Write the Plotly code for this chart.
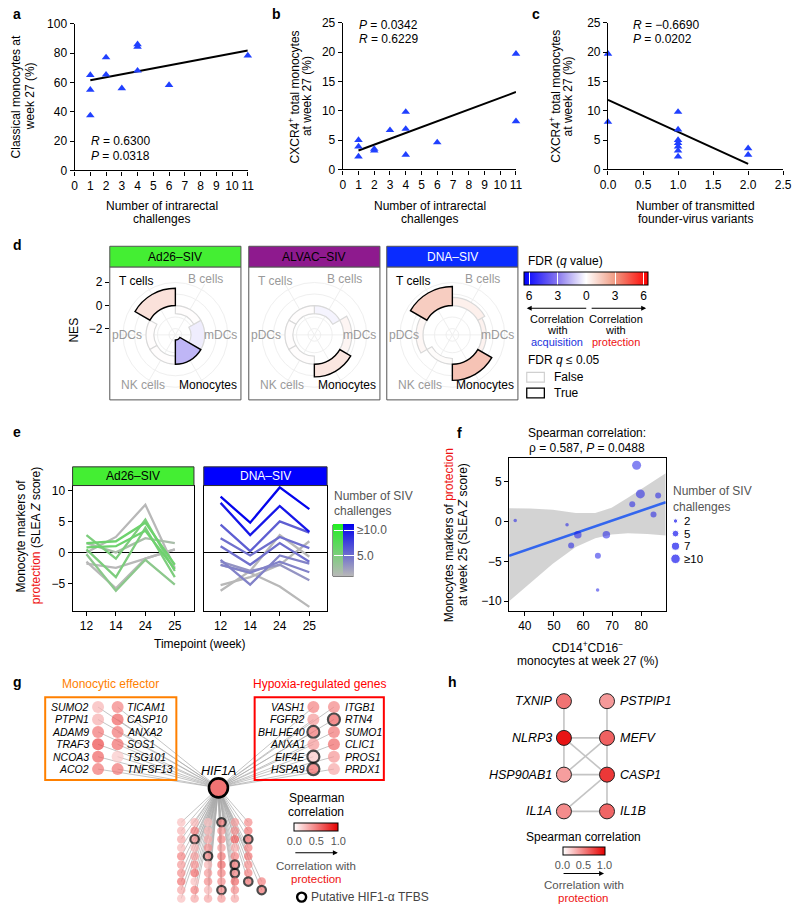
import plotly.graph_objects as go

W, H = 800, 912
FONT = "Liberation Sans, Arial, sans-serif"

# ---------------- data ----------------
a_challenges = [1, 1, 1, 2, 2, 3, 4, 4, 4, 6, 11]
a_classical = [65, 55, 37.5, 77, 65.3, 56, 86, 84.3, 68, 58.2, 78.3]
a_fit_x = [1, 11]
a_fit_y = [61.5, 81.7]

b_challenges = [1, 1, 1, 2, 2, 3, 4, 4, 4, 6, 11, 11]
b_cxcr4 = [5.0, 3.9, 2.2, 3.5, 3.2, 6.7, 9.8, 6.9, 2.5, 4.6, 19.7, 8.2]
b_fit_x = [1, 11]
b_fit_y = [3.24, 13.2]

c_variants = [0, 0, 1, 1, 1, 1, 1, 1, 1, 2, 2]
c_cxcr4 = [19.7, 8.1, 9.8, 6.8, 5.0, 4.5, 3.9, 3.2, 2.2, 3.6, 2.5]
c_fit_x = [0, 2]
c_fit_y = [11.85, 0.95]

d_vaccines = ["Ad26–SIV", "ALVAC–SIV", "DNA–SIV"]
d_cells = ["mDCs", "B cells", "T cells", "pDCs", "NK cells", "Monocytes"]
d_nes_ad26 = [-1.2, -0.7, 1.5, -0.7, -0.7, -2.1]
d_nes_alvac = [0.7, -0.7, -0.7, -0.7, -0.7, 1.1]
d_nes_dna = [0.4, 0.7, 1.65, 0.6, -0.5, 1.4]
d_fdr_ad26 = [-0.4, 0.05, 0.9, 0.05, 0.05, -1.6]
d_fdr_alvac = [0.3, -0.25, 0.05, 0.05, 0.05, 0.75]
d_fdr_dna = [0.4, 0.45, 1.5, 0.25, 0.1, 1.8]
d_sig_ad26 = [False, False, True, False, False, True]
d_sig_alvac = [False, False, False, False, False, True]
d_sig_dna = [False, False, True, False, False, True]

e_weeks = ["12", "14", "24", "25"]
e_ad26_lines = [[2.8, -1.0, 5.3, -3.0], [1.5, 1.8, 4.8, -2.0], [0.5, -4.0, 4.0, -4.0],
                [-0.3, -6.2, -1.2, -5.2], [0.8, 1.0, 3.5, -2.7], [0.0, 2.5, 7.7, -2.5],
                [-1.8, -2.5, -1.0, 0.5], [1.5, 0.0, 2.3, 1.5], [-1.5, -5.8, -1.0, 0.5]]
e_ad26_challenges = [5, 6, 5, 4, 6, 1, 1, 2, 1]
e_dna_lines = [[9.0, 4.8, 10.5, 7.0], [8.0, 2.8, 7.5, 3.3], [4.5, 0.2, 5.0, 3.2],
               [2.3, -0.5, 2.5, 0.7], [1.0, -2.0, 1.5, -1.5], [-1.2, -5.2, -0.5, -1.8],
               [-2.0, -3.3, -1.5, -3.2], [-1.5, -3.0, -2.0, -4.5], [-5.3, -4.0, -2.0, 1.8],
               [-6.2, -3.0, 2.8, -0.7], [-2.0, -3.3, -5.5, -8.8]]
e_dna_challenges = [11, 10, 6, 5, 5, 4, 4, 3, 1, 1, 1]

f_cd14 = [36.7, 54.5, 55.9, 58.2, 65.1, 65.0, 68.0, 76.9, 78.4, 79.7, 84.2, 85.8]
f_slea = [0.15, -0.4, -3.0, -1.65, -4.3, -8.6, -1.65, 2.2, 7.1, 3.5, 0.9, 3.3]
f_challenges = [2, 2, 5, 7, 5, 2, 7, 5, 11, 10, 5, 5]
f_fit_x = [34.6, 88.4]
f_fit_y = [-4.3, 2.45]
f_band_x = [34.6, 41.8, 49.6, 57.5, 64.2, 69.8, 75.4, 82.1, 88.4]
f_band_hi = [1.7, 1.65, 1.5, 1.1, 1.1, 1.75, 3.0, 4.65, 6.1]
f_band_lo = [-10.0, -7.7, -5.3, -3.2, -2.1, -1.6, -1.45, -1.55, -1.75]
f_legend_levels = [2, 5, 7, 10]
f_legend_text = ["2", "5", "7", "≥10"]

g_eff_col1 = ["SUMO2", "PTPN1", "ADAM9", "TRAF3", "NCOA3", "ACO2"]
g_eff_col1_r = [0.30, 0.32, 0.55, 0.72, 0.62, 0.55]
g_eff_col2 = ["TICAM1", "CASP10", "ANXA2", "SOS1", "TSG101", "TNFSF13"]
g_eff_col2_r = [0.50, 0.62, 0.55, 0.58, 0.22, 0.55]
g_hyp_col1 = ["VASH1", "FGFR2", "BHLHE40", "ANXA1", "EIF4E", "HSPA9"]
g_hyp_col1_r = [0.50, 0.40, 0.55, 0.40, 0.22, 0.60]
g_hyp_col1_tfbs = [0, 0, 1, 0, 1, 1]
g_hyp_col2 = ["ITGB1", "RTN4", "SUMO1", "CLIC1", "PROS1", "PRDX1"]
g_hyp_col2_r = [0.48, 0.62, 0.55, 0.60, 0.42, 0.35]
g_hyp_col2_tfbs = [0, 1, 0, 0, 0, 0]
g_hub_r = 0.55
g_other_r = [[0.25, 0.30, 0.35, 0.28, 0.50, 0.40, 0.45, 0.55, 0.35, 0.25],
             [0.30, 0.55, 0.45, 0.30, 0.40, 0.45, 0.60, 0.25, 0.50, 0.35],
             [0.25, 0.30, 0.35, 0.45, 0.50, 0.30, 0.40, 0.45, 0.30, 0.35],
             [0.55, 0.45, 0.50, 0.40, 0.55, 0.60, 0.50, 0.45, 0.50, 0.40],
             [0.40, 0.45, 0.65, 0.35, 0.50, 0.55, 0.50, 0.60, 0.45, 0.35],
             [0.45, 0.55, 0.60, 0.50, 0.55, 0.45, 0.50, 0.55],
             [0.50, 0.55]]
g_other_start = [0, 0, 0, 0, 0, 0, 7]
g_other_tfbs = [[], [2], [4], [0, 8], [5, 6], [2, 7], [1]]

h_left = ["TXNIP", "NLRP3", "HSP90AB1", "IL1A"]
h_left_r = [0.55, 0.92, 0.38, 0.45]
h_right = ["PSTPIP1", "MEFV", "CASP1", "IL1B"]
h_right_r = [0.40, 0.62, 0.78, 0.60]
h_edges = [("TXNIP", "NLRP3"), ("NLRP3", "HSP90AB1"), ("NLRP3", "MEFV"), ("NLRP3", "CASP1"),
           ("HSP90AB1", "MEFV"), ("HSP90AB1", "CASP1"), ("IL1A", "CASP1"), ("IL1A", "IL1B"),
           ("PSTPIP1", "MEFV"), ("MEFV", "CASP1"), ("CASP1", "IL1B")]

# ---------------- helpers ----------------
def fx(p):
    return p / W

def fy(p):
    return 1 - p / H

ANN, SHP = [], []
FS = 12

def txt(x, y, text, size=FS, color="black", xa="center", ya="middle", angle=0):
    ANN.append(dict(x=fx(x), y=fy(y), xref="paper", yref="paper", text=text, showarrow=False,
                    textangle=angle, xanchor=xa, yanchor=ya,
                    font=dict(family=FONT, size=size, color=color)))

def rect(x0, y0, x1, y1, line="black", width=1.0, fill="rgba(0,0,0,0)"):
    SHP.append(dict(type="rect", xref="paper", yref="paper", x0=fx(x0), x1=fx(x1),
                    y0=fy(y1), y1=fy(y0), line=dict(color=line, width=width),
                    fillcolor=fill, layer="above"))

def arrow(xh, y, xt):
    ANN.append(dict(x=fx(xh), y=fy(y), xref="paper", yref="paper", ax=xt - xh, ay=0, text="",
                    showarrow=True, arrowhead=2, arrowsize=0.9, arrowwidth=1.1, arrowcolor="black"))

def hex2rgb(h):
    h = h.lstrip("#")
    return [int(h[i:i + 2], 16) for i in (0, 2, 4)]

def blend(c0, c1, t):
    a, b = hex2rgb(c0), hex2rgb(c1)
    t = min(max(t, 0), 1)
    return "rgb(%d,%d,%d)" % tuple(round(a[i] + (b[i] - a[i]) * t) for i in range(3))

def axis(domain, rng, **kw):
    d = dict(domain=domain, range=rng, showline=True, linecolor="black", linewidth=1.1,
             ticks="outside", ticklen=4, tickwidth=1.1, tickcolor="black", showgrid=False,
             zeroline=False, fixedrange=True,
             tickfont=dict(family=FONT, size=FS, color="black"))
    d.update(kw)
    return d

fig = go.Figure()

# ---------------- a, b, c ----------------
for xa, ya, xs, ys, lx, ly in [("x", "y", a_challenges, a_classical, a_fit_x, a_fit_y),
                               ("x2", "y2", b_challenges, b_cxcr4, b_fit_x, b_fit_y),
                               ("x3", "y3", c_variants, c_cxcr4, c_fit_x, c_fit_y)]:
    fig.add_trace(go.Scatter(x=lx, y=ly, mode="lines", line=dict(color="black", width=2),
                             xaxis=xa, yaxis=ya, hoverinfo="skip"))
    fig.add_trace(go.Scatter(x=xs, y=ys, mode="markers", cliponaxis=False,
                             marker=dict(symbol="triangle-up", size=7.5, color="#2040ff"),
                             xaxis=xa, yaxis=ya))

txt(3, 7, "<b>a</b>", size=14, xa="left")
txt(268, 7, "<b>b</b>", size=14, xa="left")
txt(533, 7, "<b>c</b>", size=14, xa="left")
txt(8, 91, "Classical monocytes at", angle=-90)
txt(22, 91, "week 27 (%)", angle=-90)
txt(157, 202, "Number of intrarectal")
txt(157, 215, "challenges")
txt(83, 136, "<i>R</i> = 0.6300", xa="left")
txt(83, 151, "<i>P</i> = 0.0318", xa="left")
txt(292, 91, "CXCR4<sup>+</sup> total monocytes", angle=-90)
txt(305, 91, "at week 27 (%)", angle=-90)
txt(431, 202, "Number of intrarectal")
txt(431, 215, "challenges")
txt(357, 18, "<i>P</i> = 0.0342", xa="left")
txt(357, 33, "<i>R</i> = 0.6229", xa="left")
txt(558, 91, "CXCR4<sup>+</sup> total monocytes", angle=-90)
txt(572, 91, "at week 27 (%)", angle=-90)
txt(702, 202, "Number of transmitted")
txt(702, 215, "founder-virus variants")
txt(637, 18, "<i>R</i> = −0.6690", xa="left")
txt(637, 33, "<i>P</i> = 0.0202", xa="left")

# ---------------- d ----------------
D_SCALE = [[0, "#0000ff"], [0.27, "#8877ee"], [0.5, "#ffffff"], [0.73, "#f09c84"], [1, "#ff0000"]]
d_sets = [(d_nes_ad26, d_fdr_ad26, d_sig_ad26), (d_nes_alvac, d_fdr_alvac, d_sig_alvac),
          (d_nes_dna, d_fdr_dna, d_sig_dna)]
d_boxes = [(104, 238), (246, 380), (387, 521)]
d_head = ["#44ee33", "#8e1a8e", "#0a2cff"]
d_head_txt = ["black", "black", "white"]
label_off = {"mDCs": (46, 0), "B cells": (31, -57), "T cells": (-40, -55), "pDCs": (-49, 0),
             "NK cells": (-33, 51), "Monocytes": (33, 51)}
CY = 333
polars = {}
for k, (nes, fdr, sig) in enumerate(d_sets):
    order = sorted(range(6), key=lambda i: sig[i])
    fig.add_trace(go.Barpolar(
        r=[nes[i] for i in order], base=[0] * 6, theta=[60 * i for i in order], width=[60] * 6,
        marker=dict(color=[fdr[i] for i in order], coloraxis="coloraxis",
                    line=dict(color=["black" if sig[i] else "#d9d9d9" for i in order],
                              width=[1.4 if sig[i] else 1.2 for i in order])),
        subplot="polar" if k == 0 else f"polar{k + 1}", hoverinfo="skip"))
    x0, x1 = d_boxes[k]
    cx = (x0 + x1) / 2
    polars["polar" if k == 0 else f"polar{k + 1}"] = dict(
        domain=dict(x=[fx(cx - 60), fx(cx + 60)], y=[fy(CY + 60), fy(CY - 60)]),
        bgcolor="rgba(0,0,0,0)",
        radialaxis=dict(range=[-2.55, 2.55], showticklabels=False, ticks="", showline=False,
                        gridcolor="#efefef", tickvals=[-2, -1, 0, 1, 2]),
        angularaxis=dict(tickvals=[0, 60, 120, 180, 240, 300], showticklabels=False, ticks="",
                         showline=False, gridcolor="#efefef", direction="counterclockwise",
                         rotation=0))
    rect(x0, 264, x1, 399, line="#555555")
    rect(x0, 243, x1, 264, line="#555555", fill=d_head[k])
    txt(cx, 254, d_vaccines[k], color=d_head_txt[k])
    for i, cell in enumerate(d_cells):
        ox, oy = label_off[cell]
        txt(cx + ox, CY + oy, cell, color="black" if sig[i] else "#9a9a9a")

txt(3, 242, "<b>d</b>", size=14, xa="left")
fig.add_trace(go.Scatter(x=[0], y=[0], mode="markers", marker=dict(opacity=0),
                         xaxis="x4", yaxis="y4", hoverinfo="skip"))
txt(67, 328, "NES", angle=-90)
txt(529, 258, "FDR (<i>q</i> value)", xa="left")
arrow(530, 306, 591)
arrow(652, 306, 596)
for j, (word, col) in enumerate([("Correlation", "black"), ("with", "black"),
                                 ("acquisition", "#2233dd")]):
    txt(561, 317 + 11.5 * j, word, size=11, color=col)
for j, (word, col) in enumerate([("Correlation", "black"), ("with", "black"),
                                 ("protection", "#ee1111")]):
    txt(621, 317 + 11.5 * j, word, size=11, color=col)
txt(529, 358, "FDR <i>q</i> ≤ 0.05", xa="left")
rect(530, 371, 548, 381, line="#d0d0d0", width=1.2)
txt(556, 376, "False", xa="left")
rect(530, 387, 548, 397, line="black", width=1.3)
txt(556, 392, "True", xa="left")

# ---------------- e ----------------
GREEN = ["#b8b8b8", "#22ee22"]
BLUE = ["#b8b8b8", "#0000ee"]
for xa, ya, lines, counts, cs in [("x5", "y5", e_ad26_lines, e_ad26_challenges, GREEN),
                                  ("x6", "y6", e_dna_lines, e_dna_challenges, BLUE)]:
    for i in sorted(range(len(lines)), key=lambda j: counts[j]):
        col = blend(cs[0], cs[1], (counts[i] - 1) / 10.2)
        fig.add_trace(go.Scatter(x=e_weeks, y=lines[i], mode="lines",
                                 line=dict(color=col, width=2.3), xaxis=xa, yaxis=ya,
                                 hoverinfo="skip"))
fig.add_trace(go.Scatter(x=[e_weeks[0]] * len(e_ad26_lines), y=[l[0] for l in e_ad26_lines],
                         mode="markers", xaxis="x5", yaxis="y5",
                         marker=dict(color=e_ad26_challenges, coloraxis="coloraxis2", opacity=0)))
fig.add_trace(go.Scatter(x=[e_weeks[0]] * len(e_dna_lines), y=[l[0] for l in e_dna_lines],
                         mode="markers", xaxis="x6", yaxis="y6",
                         marker=dict(color=e_dna_challenges, coloraxis="coloraxis3", opacity=0)))
rect(66, 467, 190, 486, fill="#44ee33", line="#333333")
rect(200, 467, 326, 486, fill="#0000ff", line="#333333")
txt(128, 476.5, "Ad26–SIV")
txt(263, 476.5, "DNA–SIV", color="white")
txt(3, 432, "<b>e</b>", size=14, xa="left")
txt(13, 537, "Monocyte markers of", angle=-90)
txt(28, 537, "<span style='color:#ee1111'>protection</span> (SLEA <i>Z</i> score)", angle=-90)
txt(196, 647, "Timepoint (week)")
txt(331, 497, "Number of SIV", color="#555555", xa="left")
txt(331, 512, "challenges", color="#555555", xa="left")
rect(332, 526, 353, 578, line="#333333", width=1)

# ---------------- f ----------------
fig.add_trace(go.Scatter(x=f_band_x + f_band_x[::-1], y=f_band_hi + f_band_lo[::-1],
                         fill="toself", fillcolor="rgba(175,175,175,0.55)", line=dict(width=0),
                         mode="lines", xaxis="x7", yaxis="y7", hoverinfo="skip"))
fig.add_trace(go.Scatter(x=f_fit_x, y=f_fit_y, mode="lines", line=dict(color="#3366ee", width=2.6),
                         xaxis="x7", yaxis="y7", hoverinfo="skip"))

def fsize(n):
    return 3.5 if n <= 2 else 6 if n <= 5 else 7.5 if n <= 7 else 9

fig.add_trace(go.Scatter(x=f_cd14, y=f_slea, mode="markers", xaxis="x7", yaxis="y7",
                         cliponaxis=False,
                         marker=dict(size=[fsize(n) for n in f_challenges],
                                     color="rgba(20,20,230,0.75)", line=dict(width=0))))
txt(457, 433, "<b>f</b>", size=14, xa="left")
txt(592, 433, "Spearman correlation:")
txt(592, 448, "ρ = 0.587, <i>P</i> = 0.0488")
txt(450, 536, "Monocytes markers of <span style='color:#ee1111'>protection</span>", angle=-90)
txt(465, 536, "at week 25 (SLEA <i>Z</i> score)", angle=-90)
txt(592, 650, "CD14<sup>+</sup>CD16<sup>−</sup>")
txt(592, 664, "monocytes at week 27 (%)")
txt(677, 492, "Number of SIV", color="#555555", xa="left")
txt(677, 508, "challenges", color="#555555", xa="left")
fig.add_trace(go.Scatter(x=[682] * 4, y=[522 + 12.8 * i for i in range(4)], mode="markers",
                         xaxis="x8", yaxis="y8",
                         marker=dict(size=[fsize(n) * 0.95 + 1 for n in f_legend_levels],
                                     color="#1a1aee")))
for i, t in enumerate(f_legend_text):
    txt(689, 522 + 12.8 * i, t, xa="left", size=11.5)

# ---------------- g ----------------
RED_SCALE = [[0, "#ffffff"], [1, "#e60000"]]
hub = (215, 793)
nodes = []  # (x, y, r, tfbs, size)
for col_x, vals, tf in [(92, g_eff_col1_r, [0] * 6), (112, g_eff_col2_r, [0] * 6),
                        (312, g_hyp_col1_r, g_hyp_col1_tfbs), (333, g_hyp_col2_r, g_hyp_col2_tfbs)]:
    for i, v in enumerate(vals):
        nodes.append((col_x, 711 + 12.6 * i, v, tf[i], 12))
for j, vals in enumerate(g_other_r):
    for i, v in enumerate(vals):
        row = g_other_start[j] + i
        nodes.append((177 + 13.7 * j, 828 + 8.6 * row, v, 1 if i in g_other_tfbs[j] else 0, 8.5))
ex, ey = [], []
for n in nodes:
    ex += [hub[0], n[0], None]
    ey += [hub[1], n[1], None]
fig.add_trace(go.Scatter(x=ex, y=ey, mode="lines", line=dict(color="#aaaaaa", width=0.7),
                         xaxis="x8", yaxis="y8", hoverinfo="skip"))
fig.add_trace(go.Scatter(x=[n[0] for n in nodes], y=[n[1] for n in nodes], mode="markers",
                         xaxis="x8", yaxis="y8", cliponaxis=False,
                         marker=dict(size=[n[4] for n in nodes], color=[n[2] for n in nodes],
                                     coloraxis="coloraxis4",
                                     line=dict(color="black", width=[2.2 if n[3] else 0 for n in nodes]))))
fig.add_trace(go.Scatter(x=[hub[0]], y=[hub[1]], mode="markers", xaxis="x8", yaxis="y8",
                         marker=dict(size=19, color=[g_hub_r], coloraxis="coloraxis4",
                                     line=dict(color="black", width=2.6))))
txt(215, 776, "<i>HIF1A</i>", size=12.5)
for i, g in enumerate(g_eff_col1):
    txt(85, 711 + 12.6 * i, f"<i>{g}</i>", size=10.5, xa="right")
for i, g in enumerate(g_eff_col2):
    txt(120, 711 + 12.6 * i, f"<i>{g}</i>", size=10.5, xa="left")
for i, g in enumerate(g_hyp_col1):
    txt(305, 711 + 12.6 * i, f"<i>{g}</i>", size=10.5, xa="right")
for i, g in enumerate(g_hyp_col2):
    txt(342, 711 + 12.6 * i, f"<i>{g}</i>", size=10.5, xa="left")
rect(38, 701, 172, 785, line="#ff8000", width=2)
rect(252, 701, 384, 785, line="#ff0000", width=2)
txt(105, 688, "Monocytic effector", color="#ff8000", size=12)
txt(318, 688, "Hypoxia-regulated genes", color="#ff0000", size=12)
txt(3, 686, "<b>g</b>", size=14, xa="left")
txt(315, 803, "Spearman", size=12)
txt(315, 818, "correlation", size=12)
arrow(337, 859, 293)
txt(315, 872, "Correlation with", color="#555555", size=11.5)
txt(315, 886, "protection", color="#ee1111", size=11.5)
fig.add_trace(go.Scatter(x=[300], y=[904], mode="markers", xaxis="x8", yaxis="y8",
                         marker=dict(size=9, color="white", line=dict(color="black", width=2.4))))
txt(308, 904, "Putative HIF1-α TFBS", color="#444444", size=12, xa="left")

# ---------------- h ----------------
hpos = {}
for i, g in enumerate(h_left):
    hpos[g] = (568, 705 + 37.3 * i)
for i, g in enumerate(h_right):
    hpos[g] = (612, 705 + 37.3 * i)
hx, hy = [], []
for a, b in h_edges:
    hx += [hpos[a][0], hpos[b][0], None]
    hy += [hpos[a][1], hpos[b][1], None]
fig.add_trace(go.Scatter(x=hx, y=hy, mode="lines", line=dict(color="#c4c4c4", width=1.6),
                         xaxis="x8", yaxis="y8", hoverinfo="skip"))
hn = h_left + h_right
hr = h_left_r + h_right_r
fig.add_trace(go.Scatter(x=[hpos[g][0] for g in hn], y=[hpos[g][1] for g in hn], mode="markers",
                         xaxis="x8", yaxis="y8",
                         marker=dict(size=15, color=hr, coloraxis="coloraxis5",
                                     line=dict(color="#222222", width=1))))
for g in h_left:
    txt(558, hpos[g][1], f"<i>{g}</i>", size=12.5, xa="right")
for g in h_right:
    txt(623, hpos[g][1], f"<i>{g}</i>", size=12.5, xa="left")
txt(447, 686, "<b>h</b>", size=14, xa="left")
txt(588, 843, "Spearman correlation", size=12)
arrow(609, 880, 567)
txt(588, 892, "Correlation with", color="#555555", size=11.5)
txt(588, 905, "protection", color="#ee1111", size=11.5)

# ---------------- layout ----------------
def cbar_h(xc, ytop, length, thick, **kw):
    d = dict(orientation="h", x=fx(xc), xanchor="center", y=fy(ytop), yanchor="top",
             len=length, lenmode="pixels", thickness=thick, thicknessmode="pixels",
             outlinecolor="black", outlinewidth=1, xpad=0, ypad=0)
    d.update(kw)
    return d

layout = dict(
    width=W, height=H, margin=dict(l=0, r=0, t=0, b=0), showlegend=False,
    paper_bgcolor="white", plot_bgcolor="rgba(0,0,0,0)",
    font=dict(family=FONT, size=FS, color="black"),
    xaxis=axis([fx(68), fx(245)], [0, 11], tickvals=list(range(12)), anchor="y"),
    yaxis=axis([fy(166), fy(17)], [0, 100], dtick=20, anchor="x"),
    xaxis2=axis([fx(342), fx(519)], [0, 11], tickvals=list(range(12)), anchor="y2"),
    yaxis2=axis([fy(165), fy(16)], [0, 25], dtick=5, anchor="x2"),
    xaxis3=axis([fx(613), fx(792)], [0, 2.5], tickvals=[0, 0.5, 1, 1.5, 2, 2.5],
                tickformat=".1f", anchor="y3"),
    yaxis3=axis([fy(165), fy(16)], [0, 25], dtick=5, anchor="x3"),
    xaxis4=dict(domain=[fx(104), fx(105)], range=[0, 1], visible=False, anchor="y4", fixedrange=True),
    yaxis4=axis([fy(CY), fy(CY - 60)], [-2.55, 2.55], anchor="x4", showline=False,
                tickvals=[-2, 0, 2], ticktext=["−2", "0", "2"]),
    xaxis5=axis([fx(66), fx(190)], [-0.47, 3.65], type="category", anchor="y5", mirror=True),
    yaxis5=axis([fy(613), fy(486)], [-9.4, 10.8], tickvals=[-5, 0, 5, 10], anchor="x5",
                mirror=True, zeroline=True, zerolinecolor="black", zerolinewidth=1.3),
    xaxis6=axis([fx(200), fx(326)], [-0.57, 3.6], type="category", anchor="y6", mirror=True),
    yaxis6=axis([fy(613), fy(486)], [-9.4, 10.8], tickvals=[-5, 0, 5, 10], anchor="x6",
                mirror=True, showticklabels=False, ticks="", zeroline=True,
                zerolinecolor="black", zerolinewidth=1.3),
    xaxis7=axis([fx(512), fx(672)], [34.6, 88.4], tickvals=[40, 50, 60, 70, 80], anchor="y7",
                mirror=True),
    yaxis7=axis([fy(613), fy(458)], [-11.19, 8.02], tickvals=[-10, -5, 0, 5], anchor="x7",
                mirror=True),
    xaxis8=dict(domain=[0, 1], range=[0, W], visible=False, anchor="y8", fixedrange=True),
    yaxis8=dict(domain=[0, 1], range=[H, 0], visible=False, anchor="x8", fixedrange=True),
    coloraxis=dict(colorscale=D_SCALE, cmin=-6.5, cmax=6.5,
                   colorbar=cbar_h(591, 269, 124, 13, tickvals=[-6, -3, 0, 3, 6],
                                   ticktext=["6", "3", "0", "3", "6"], ticks="inside",
                                   tickcolor="white", ticklen=13,
                                   tickfont=dict(family=FONT, size=FS, color="black"))),
    coloraxis2=dict(colorscale=[[0, GREEN[0]], [1, GREEN[1]]], cmin=1, cmax=11.2,
                    colorbar=dict(x=fx(332), xanchor="left", y=fy(578), yanchor="bottom",
                                  len=52, lenmode="pixels", thickness=10.5, thicknessmode="pixels",
                                  outlinewidth=0, showticklabels=False, ticks="inside",
                                  tickvals=[5, 10], tickcolor="white", ticklen=10,
                                  xpad=0, ypad=0)),
    coloraxis3=dict(colorscale=[[0, BLUE[0]], [1, BLUE[1]]], cmin=1, cmax=11.2,
                    colorbar=dict(x=fx(342.5), xanchor="left", y=fy(578), yanchor="bottom",
                                  len=52, lenmode="pixels", thickness=10.5, thicknessmode="pixels",
                                  outlinewidth=0, ticks="inside", tickvals=[5, 10],
                                  ticktext=["5.0", "≥10.0"], tickcolor="white", ticklen=10,
                                  tickfont=dict(family=FONT, size=FS, color="#555555"),
                                  xpad=0, ypad=0)),
    coloraxis4=dict(colorscale=RED_SCALE, cmin=0, cmax=1,
                    colorbar=cbar_h(315, 829, 44, 8, tickvals=[0, 0.5, 1],
                                    ticktext=["0.0", "0.5", "1.0"], ticks="",
                                    tickfont=dict(family=FONT, size=11, color="#555555"))),
    coloraxis5=dict(colorscale=RED_SCALE, cmin=0, cmax=1,
                    colorbar=cbar_h(588, 853, 42, 8, tickvals=[0, 0.5, 1],
                                    ticktext=["0.0", "0.5", "1.0"], ticks="",
                                    tickfont=dict(family=FONT, size=11, color="#555555"))),
    annotations=ANN, shapes=SHP,
)
layout.update(polars)
fig.update_layout(**layout)
fig.update_traces(showlegend=False)

fig.write_html("out.html", config={"displayModeBar": False},
               post_script="document.body.style.margin='0';document.body.style.overflow='hidden';")
